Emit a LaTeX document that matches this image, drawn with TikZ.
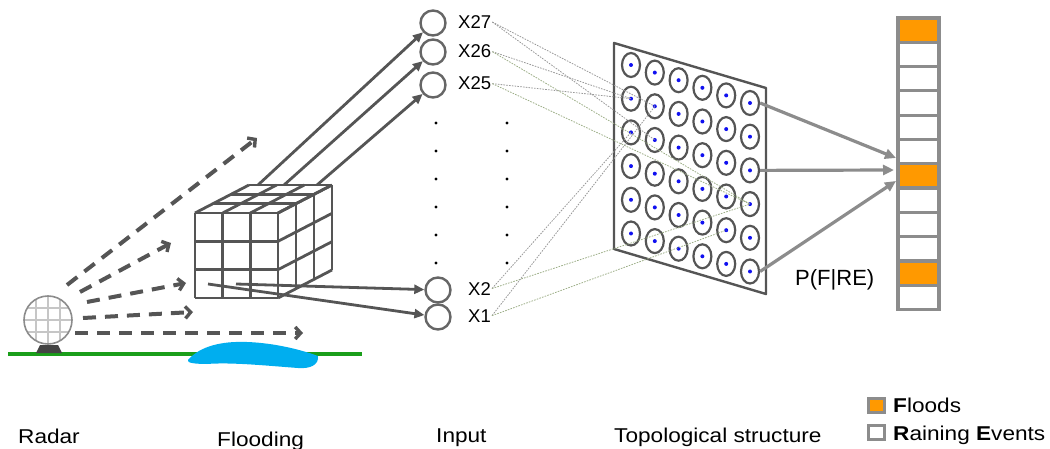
\documentclass[tikz,border=0pt]{standalone}
\usepackage{fontspec}
\setmainfont{Liberation Sans}
\usetikzlibrary{arrows.meta,shapes.geometric}
\definecolor{ink}{HTML}{555555}
\definecolor{softgray}{HTML}{8C8C8C}
\definecolor{floodorange}{HTML}{FF9900}
\definecolor{grass}{HTML}{1A9E1A}
\definecolor{water}{HTML}{00AEEF}
\definecolor{dotblue}{HTML}{1010F0}
\definecolor{olivedot}{HTML}{9DAE88}
\tikzset{
  ray/.style={draw=ink, line width=4pt, dash pattern=on 13pt off 9pt,
    -{Straight Barb[length=5.5pt,width=12pt,line width=3.4pt]}},
  feed/.style={draw=ink, line width=2.8pt, -{Triangle[length=10pt,width=9pt]}},
  inputnode/.style={circle, draw=ink!90, line width=2.4pt, minimum size=25pt, inner sep=0pt},
  xlabel/.style={font=\fontsize{18.5}{20}\selectfont, anchor=base west, inner sep=1pt},
  caption/.style={font=\fontsize{20}{22}\selectfont, anchor=base west, inner sep=0pt, xscale=1.13},
  link/.style={draw=gray!80, line width=0.8pt, dash pattern=on 1.6pt off 1.2pt},
  greenlink/.style={draw=olivedot, line width=0.8pt, dash pattern=on 1.6pt off 1.2pt},
  gcell/.style={ellipse, draw=ink, line width=2.2pt, minimum width=18pt, minimum height=24pt,
    inner sep=0pt, path picture={\fill[dotblue] (path picture bounding box.center) circle (2pt);}},
  outarrow/.style={draw=softgray, line width=3.2pt, -{Triangle[length=11pt,width=10pt]}},
  cell/.style={rectangle, draw=softgray, line width=3.2pt, minimum width=41pt, minimum height=24.3pt, inner sep=0pt},
  legendbox/.style={rectangle, draw=softgray, line width=3pt, minimum width=16pt, minimum height=14pt, inner sep=0pt},
  inputdot/.style={circle, fill=black, minimum size=3.4pt, inner sep=0pt},
}
\begin{document}
\begin{tikzpicture}[x=1pt, y=-1pt, line cap=butt]
\useasboundingbox (0,0) rectangle (1050,449);

% ground and water
\draw[grass, line width=3.4pt] (8,354) -- (362,354);
\fill[water] (188,360) .. controls (200,346) and (222,341) .. (247,342)
  .. controls (275,343) and (302,350) .. (318,356)
  .. controls (319,365) and (310,369) .. (298,368)
  .. controls (270,366) and (232,362) .. (207,364)
  .. controls (196,364) and (186,363) .. (188,360) -- cycle;

% radar dome
\fill[ink!80!black] (36,353) -- (40,345) -- (58,345) -- (62,353) -- cycle;
\begin{scope}
  \clip (48,320) circle (24);
  \fill[white] (48,320) circle (24);
  \foreach \d in {-12,0,12} {
    \draw[gray!45, line width=1.2pt] (48+\d,290) -- (48+\d,350);
    \draw[gray!45, line width=1.2pt] (20,320+\d) -- (76,320+\d);
  }
\end{scope}
\draw[gray!90, line width=1.6pt] (48,320) circle (24);

% radar beams
\coordinate (s1) at (67,285);  \coordinate (e1) at (257,138);
\coordinate (s2) at (80,292);  \coordinate (e2) at (171,243);
\coordinate (s3) at (87,302);  \coordinate (e3) at (186,283);
\coordinate (s4) at (83,318);  \coordinate (e4) at (193,312);
\coordinate (s5) at (75,333);  \coordinate (e5) at (303,333);
\foreach \k in {1,...,5} \draw[ray] (s\k) -- (e\k);

% data cube
\begin{scope}[draw=ink, line width=2.8pt, line join=round]
  \foreach \i in {0,1,2,3} {
    \draw ({195+\i*83/3},213) -- ({195+\i*83/3},298);
    \draw (195,{213+\i*85/3}) -- (278,{213+\i*85/3});
    \draw ({195+\i*83/3},213) -- ({249+\i*83/3},185);
    \draw ({195+\i*18},{213-\i*28/3}) -- ({278+\i*18},{213-\i*28/3});
    \draw ({278+\i*18},{213-\i*28/3}) -- ({278+\i*18},{298-\i*28/3});
    \draw (278,{213+\i*85/3}) -- (332,{185+\i*85/3});
  }
\end{scope}
\coordinate (c27) at (258,185);
\coordinate (c26) at (284,185);
\coordinate (c25) at (317,185);
\coordinate (c2) at (236,284);
\coordinate (c1) at (208,284);

% input layer
\node[inputnode] (x27) at (433,23) {};
\node[inputnode] (x26) at (433,52) {};
\node[inputnode] (x25) at (433,85) {};
\node[inputnode] (x2) at (438,290) {};
\node[inputnode] (x1) at (438,317) {};
\node[xlabel] (l27) at (457,28.5) {X27};
\node[xlabel] (l26) at (457,58) {X26};
\node[xlabel] (l25) at (457,90) {X25};
\node[xlabel] (l2) at (467,295) {X2};
\node[xlabel] (l1) at (467,322) {X1};
\foreach \yy [count=\k] in {123,151,179,207,235,263} {
  \node[inputdot] (dl\k) at (436,\yy) {};
  \node[inputdot] (dr\k) at (507,\yy) {};
}

\draw[feed] (c27) -- (x27);
\draw[feed] (c26) -- (x26);
\draw[feed] (c25) -- (x25);
\draw[feed] (c2) -- (x2);
\draw[feed] (c1) -- (x1);

% topological structure
\coordinate (p1) at (614,43);
\coordinate (p2) at (766,88);
\coordinate (p3) at (766,294);
\coordinate (p4) at (614,249);
\draw[ink, line width=2.4pt, line join=round] (p1) -- (p2) -- (p3) -- (p4) -- cycle;
\foreach \row in {1,...,6}
  \foreach \col in {1,...,6}
    \node[gcell] (g\row\col) at ({631+(\col-1)*23.8},{65+(\row-1)*33.7+(\col-1)*7.6}) {};

% input-to-map links
\draw[link] (l27.east) -- (g22.center);
\draw[link] (l27.east) -- (g32.center);
\draw[link] (l26.east) -- (g21.center);
\draw[greenlink] (l26.east) -- (g46.center);
\draw[link] (l25.east) -- (g21.center);
\draw[greenlink] (l25.east) -- (g46.center);
\draw[link] (l2.east) -- (g31.center);
\draw[greenlink] (l2.east) -- (g46.center);
\draw[link] (l1.east) -- (g22.center);
\draw[greenlink] (l1.east) -- (g55.center);

% output column
\foreach \k/\f in {1/floodorange,2/white,3/white,4/white,5/white,6/white,
                   7/floodorange,8/white,9/white,10/white,11/floodorange,12/white}
  \node[cell, fill=\f] (o\k) at (918.5,{18+(\k-0.5)*24.3}) {};

\coordinate (t1) at (896,158);
\coordinate (t2) at (894,170);
\coordinate (t3) at (896,181);
\draw[outarrow] (g16.east) -- (t1);
\draw[outarrow] (g36.east) -- (t2);
\draw[outarrow] (g66.east) -- (t3);

\node[font=\fontsize{22}{24}\selectfont, anchor=base west, inner sep=0pt] (prob) at (795,285) {P(F|RE)};

% captions
\node[caption] (capradar) at (18,443) {Radar};
\node[caption] (capflood) at (217,446) {Flooding};
\node[caption] (capinput) at (436,442) {Input};
\node[caption] (captopo) at (614,442) {Topological structure};

% legend
\node[legendbox, fill=floodorange] (legf) at (876.5,405.5) {};
\node[legendbox, fill=white] (legr) at (876.5,432.5) {};
\node[caption] (legftext) at (893,412) {\textbf{F}loods};
\node[caption] (legrtext) at (893,440) {\textbf{R}aining \textbf{E}vents};
\end{tikzpicture}
\end{document}
